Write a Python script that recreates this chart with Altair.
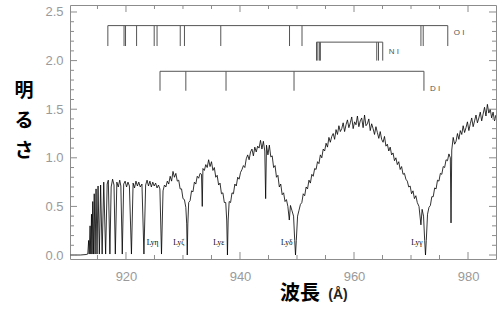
import altair as alt
import pandas as pd

# ---------------- data ----------------
spec_wl = [
    910.2, 911.0, 912.0, 913.0, 913.3, 913.45, 913.55, 913.7, 913.83, 913.95,
    914.04, 914.17, 914.29, 914.43, 914.58, 914.75, 914.92, 915.1, 915.33, 915.55,
    915.82, 916.1, 916.43, 916.7, 916.9, 917.18, 917.4, 917.65, 917.9, 918.13,
    918.4, 918.65, 918.9, 919.1, 919.35, 919.6, 919.85, 920.1, 920.35, 920.6,
    920.96, 921.25, 921.5, 921.75, 922.0, 922.25, 922.5, 922.8, 923.15, 923.45,
    923.7, 923.95, 924.2, 924.45, 924.7, 924.95, 925.2, 925.45, 925.7, 925.95,
    926.23, 926.5, 926.75, 927.0, 927.25, 927.5, 927.75, 928.0, 928.25, 928.5,
    928.75, 929.0, 929.25, 929.5, 929.75, 930.0, 930.25, 930.5, 930.65, 930.75,
    930.85, 931.0, 931.25, 931.5, 931.75, 932.0, 932.25, 932.5, 932.75, 933.0,
    933.25, 933.38, 933.5, 933.75, 934.0, 934.25, 934.5, 934.75, 935.0, 935.25,
    935.5, 935.75, 936.0, 936.25, 936.5, 936.75, 937.0, 937.25, 937.5, 937.68,
    937.8, 937.92, 938.1, 938.35, 938.6, 938.85, 939.1, 939.35, 939.6, 939.85,
    940.1, 940.35, 940.6, 940.85, 941.1, 941.35, 941.6, 941.85, 942.1, 942.35,
    942.6, 942.85, 943.1, 943.35, 943.6, 943.85, 944.1, 944.35, 944.5, 944.65,
    944.9, 945.15, 945.4, 945.65, 945.9, 946.15, 946.4, 946.65, 946.9, 947.15,
    947.4, 947.65, 947.9, 948.15, 948.4, 948.65, 948.85, 949.1, 949.4, 949.6,
    949.74, 949.88, 950.1, 950.35, 950.6, 950.85, 951.1, 951.35, 951.6, 951.85,
    952.1, 952.35, 952.6, 952.85, 953.1, 953.35, 953.6, 953.85, 954.1, 954.35,
    954.6, 954.85, 955.1, 955.35, 955.6, 955.85, 956.1, 956.35, 956.6, 956.85,
    957.1, 957.35, 957.6, 957.85, 958.1, 958.35, 958.6, 958.85, 959.1, 959.35,
    959.6, 959.85, 960.1, 960.35, 960.6, 960.85, 961.1, 961.35, 961.6, 961.85,
    962.1, 962.35, 962.6, 962.85, 963.1, 963.35, 963.6, 963.85, 964.1, 964.35,
    964.6, 964.85, 965.1, 965.35, 965.6, 965.85, 966.1, 966.35, 966.6, 966.85,
    967.1, 967.35, 967.6, 967.85, 968.1, 968.35, 968.6, 968.85, 969.1, 969.35,
    969.6, 969.85, 970.1, 970.35, 970.6, 970.85, 971.1, 971.4, 971.74, 971.95,
    972.2, 972.4, 972.54, 972.68, 972.9, 973.15, 973.4, 973.65, 973.9, 974.15,
    974.4, 974.65, 974.9, 975.15, 975.4, 975.65, 975.9, 976.15, 976.4, 976.65,
    976.9, 977.02, 977.15, 977.4, 977.65, 977.9, 978.15, 978.4, 978.65, 978.9,
    979.15, 979.4, 979.65, 979.9, 980.15, 980.4, 980.65, 980.9, 981.15, 981.4,
    981.65, 981.9, 982.15, 982.4, 982.65, 982.9, 983.15, 983.4, 983.65, 983.9,
    984.15, 984.4, 984.65, 984.9,
]
spec_flux = [
    0.0, 0.0, 0.0, 0.005, 0.01, 0.15, 0.01, 0.30, 0.01, 0.42,
    0.01, 0.55, 0.01, 0.63, 0.01, 0.68, 0.01, 0.71, 0.01, 0.72,
    0.01, 0.75, 0.01, 0.73, 0.77, 0.01, 0.70, 0.78, 0.72, 0.01,
    0.75, 0.70, 0.77, 0.71, 0.01, 0.73, 0.76, 0.70, 0.75, 0.71,
    0.01, 0.74, 0.69, 0.76, 0.71, 0.75, 0.70, 0.73, 0.01, 0.72,
    0.77, 0.71, 0.76, 0.70, 0.75, 0.71, 0.74, 0.69, 0.72, 0.68,
    0.01, 0.66, 0.72, 0.70, 0.76, 0.73, 0.81, 0.76, 0.86, 0.80,
    0.84, 0.76, 0.77, 0.68, 0.68, 0.58, 0.57, 0.49, 0.32, 0.0,
    0.32, 0.54, 0.56, 0.66, 0.65, 0.75, 0.73, 0.81, 0.79, 0.84,
    0.83, 0.50, 0.89, 0.87, 0.93, 0.90, 0.98, 0.91, 0.96, 0.87,
    0.90, 0.80, 0.82, 0.72, 0.74, 0.63, 0.64, 0.54, 0.54, 0.35,
    0.0, 0.35, 0.55, 0.54, 0.64, 0.63, 0.73, 0.71, 0.80, 0.78,
    0.85, 0.88, 0.92, 0.90, 0.99, 1.03, 0.98, 1.06, 1.09, 1.02,
    1.11, 1.06, 1.12, 1.10, 1.18, 1.09, 1.17, 1.07, 0.58, 1.13,
    1.03, 1.13, 1.01, 1.02, 0.90, 0.92, 0.80, 0.82, 0.70, 0.73,
    0.62, 0.64, 0.55, 0.57, 0.50, 0.36, 0.51, 0.46, 0.40, 0.15,
    0.0, 0.15, 0.40, 0.46, 0.52, 0.54, 0.63, 0.61, 0.70, 0.68,
    0.77, 0.74, 0.83, 0.81, 0.89, 0.88, 0.96, 0.94, 1.03, 1.00,
    1.09, 1.07, 1.15, 1.11, 1.21, 1.16, 1.22, 1.25, 1.19, 1.29,
    1.24, 1.33, 1.27, 1.30, 1.36, 1.27, 1.34, 1.39, 1.31, 1.36,
    1.42, 1.30, 1.37, 1.34, 1.43, 1.32, 1.38, 1.41, 1.31, 1.44,
    1.33, 1.35, 1.40, 1.28, 1.35, 1.30, 1.24, 1.32, 1.26, 1.20,
    1.27, 1.19, 1.16, 1.22, 1.12, 1.14, 1.07, 1.11, 1.03, 1.05,
    0.97, 1.00, 0.93, 0.96, 0.88, 0.91, 0.83, 0.84, 0.78, 0.76,
    0.70, 0.71, 0.63, 0.66, 0.58, 0.61, 0.54, 0.50, 0.31, 0.47,
    0.40, 0.15, 0.0, 0.15, 0.42, 0.49, 0.51, 0.60, 0.60, 0.69,
    0.68, 0.77, 0.76, 0.84, 0.83, 0.91, 0.90, 0.98, 0.97, 1.04,
    1.00, 0.33, 1.08, 1.21, 1.14, 1.17, 1.25, 1.19, 1.28, 1.24,
    1.33, 1.26, 1.31, 1.37, 1.28, 1.35, 1.41, 1.32, 1.38, 1.44,
    1.36, 1.41, 1.47, 1.38, 1.45, 1.52, 1.43, 1.55, 1.46, 1.50,
    1.41, 1.47, 1.38, 1.44,
]

x_major = [920, 940, 960, 980]
x_minor = [915, 925, 930, 935, 945, 950, 955, 965, 970, 975]
y_major = [0.0, 0.5, 1.0, 1.5, 2.0, 2.5]
y_minor = [0.1, 0.2, 0.3, 0.4, 0.6, 0.7, 0.8, 0.9, 1.1, 1.2, 1.3, 1.4,
           1.6, 1.7, 1.8, 1.9, 2.1, 2.2, 2.3, 2.4]

oi_lines = [916.82, 919.66, 919.92, 921.86, 924.95, 925.45, 929.52, 930.26,
            936.63, 948.69, 950.88, 971.74, 972.14, 976.45]
ni_lines = [953.42, 953.66, 953.97, 954.10, 963.99, 964.30, 965.04]
di_lines = [925.97, 930.50, 937.55, 949.48, 972.27]
species = ["O I", "N I", "D I"]
bar_top = [2.36, 2.19, 1.89]
bar_bottom = [2.15, 2.00, 1.69]
label_y = [2.28, 2.09, 1.71]

ly_names = ["Lyη", "Lyζ", "Lyε", "Lyδ", "Lyγ"]
ly_wl = [926.23, 930.75, 937.80, 949.74, 972.54]
ly_y = [0.12, 0.12, 0.12, 0.12, 0.12]

# ---------------- tables ----------------
spec_df = pd.DataFrame({"wl": spec_wl, "flux": spec_flux})
line_rows = []
bar_rows = []
for name, lst, top, bot, ly in zip(species, [oi_lines, ni_lines, di_lines],
                                   bar_top, bar_bottom, label_y):
    for w in lst:
        line_rows.append({"wl": w, "flux": top, "bot": bot})
    bar_rows.append({"name": name, "wl": min(lst), "end": max(lst),
                     "flux": top, "ly": ly})
lines_df = pd.DataFrame(line_rows)
bars_df = pd.DataFrame(bar_rows)
ly_df = pd.DataFrame({"name": ly_names, "wl": ly_wl, "flux": ly_y})

W, H = 426, 254
xs = alt.Scale(domain=[910.18, 984.91], nice=False, zero=False)
ys = alt.Scale(domain=[-0.041, 2.572], nice=False, zero=False)
AX = "#8c8c8c"

x_axis = alt.Axis(values=x_major, format="d", tickSize=0, domain=False,
                  grid=False, labelPadding=11, title=None)
y_axis = alt.Axis(values=y_major, format=".1f", tickSize=0, domain=False,
                  grid=False, labelPadding=7, title=None)


def X(field="wl"):
    return alt.X(f"{field}:Q", scale=xs, axis=x_axis, title=None)


def Y(field="flux"):
    return alt.Y(f"{field}:Q", scale=ys, axis=y_axis, title=None)


spectrum = alt.Chart(spec_df).mark_line(color="black", strokeWidth=0.8, clip=True).encode(
    x=X(), y=Y())


def xticks(vals, length):
    df = pd.DataFrame({"wl": vals})
    bottom = alt.Chart(df).mark_rule(color=AX, strokeWidth=1).encode(
        x=X(), y=alt.value(H), y2=alt.value(H - length))
    top = alt.Chart(df).mark_rule(color=AX, strokeWidth=1).encode(
        x=X(), y=alt.value(0), y2=alt.value(length))
    return [bottom, top]


def yticks(vals, length):
    df = pd.DataFrame({"flux": vals})
    left = alt.Chart(df).mark_rule(color=AX, strokeWidth=1).encode(
        y=Y(), x=alt.value(0), x2=alt.value(length))
    right = alt.Chart(df).mark_rule(color=AX, strokeWidth=1).encode(
        y=Y(), x=alt.value(W), x2=alt.value(W - length))
    return [left, right]


LC = "#555555"
line_ticks = alt.Chart(lines_df).mark_rule(color=LC, strokeWidth=1).encode(
    x=X(), y=Y(), y2="bot:Q")
bars = alt.Chart(bars_df).mark_rule(color=LC, strokeWidth=1).encode(
    x=X(), x2="end:Q", y=Y())
bar_labels = alt.Chart(bars_df).mark_text(
    color="#555555", fontSize=8, font="Liberation Sans", align="left", dx=6,
    baseline="middle").encode(
    x=X("end"), y=Y("ly"), text="name:N")

ly_labels = alt.Chart(ly_df).mark_text(
    color="black", fontSize=7.5, font="Liberation Serif", align="right", dx=-3,
    baseline="middle").encode(
    x=X(), y=Y(), text="name:N")

one = pd.DataFrame({"a": [0]})
ytitle = alt.Chart(one).mark_text(
    text="明\nる\nさ", lineBreak="\n", lineHeight=30, fontSize=19, fontWeight="bold",
    font="Noto Sans CJK JP", color="black", align="center", baseline="top").encode(
    x=alt.value(-46), y=alt.value(77))
xtitle1 = alt.Chart(one).mark_text(
    text="波長", fontSize=20, fontWeight="bold", font="Noto Sans CJK JP",
    color="black", align="center", baseline="middle").encode(
    x=alt.value(230), y=alt.value(288.5))
xtitle2 = alt.Chart(one).mark_text(
    text="(Å)", fontSize=14, fontWeight="bold", font="Liberation Sans",
    color="#222222", align="center", baseline="middle").encode(
    x=alt.value(268), y=alt.value(290))

layers = [spectrum]
layers += xticks(x_major, 7) + xticks(x_minor, 4)
layers += yticks(y_major, 7) + yticks(y_minor, 4)
layers += [line_ticks, bars, bar_labels, ly_labels, ytitle, xtitle1, xtitle2]

chart = alt.layer(*layers).properties(
    width=W, height=H,
    padding={"left": 70, "top": 5, "right": 4, "bottom": 50},
    autosize=alt.AutoSizeParams(type="none"),
    background="white",
).configure_view(
    stroke=AX, strokeWidth=1
).configure_axis(
    labelColor="#9a9a9a", labelFont="Liberation Sans", labelFontSize=13
)

chart.save("out.html", embed_options={"renderer": "svg", "actions": False})
